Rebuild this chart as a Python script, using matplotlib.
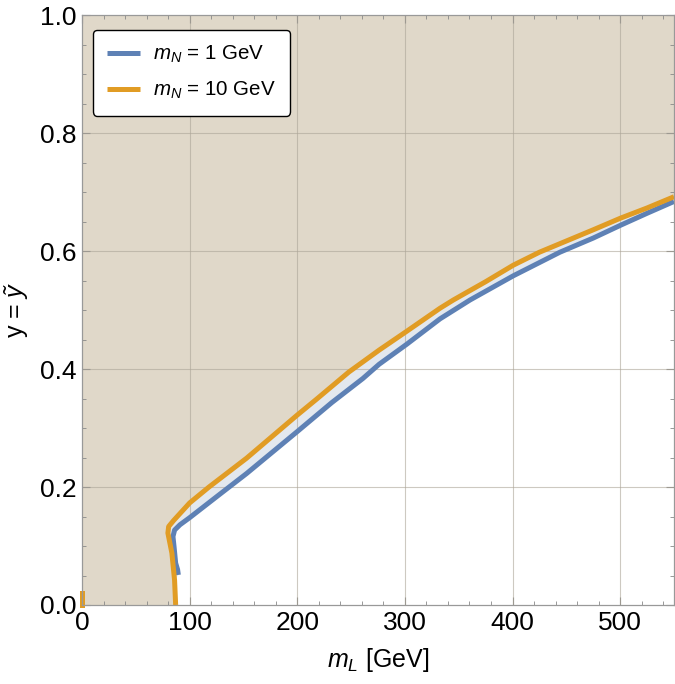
import matplotlib
matplotlib.use("Agg")
import matplotlib.pyplot as plt
from matplotlib.ticker import MultipleLocator

plt.rcParams['font.family'] = ['Liberation Sans', 'DejaVu Sans']
plt.rcParams['mathtext.fontset'] = 'custom'
plt.rcParams['mathtext.rm'] = 'Liberation Sans'
plt.rcParams['mathtext.it'] = 'Liberation Sans:italic'

# m_N = 10 GeV boundary (orange)
mL_10 = [87.0, 86.0, 83.5, 79.8, 80.5, 85.0, 100.0, 118.0, 153.0, 200.0, 218.0,
         248.0, 276.0, 301.7, 332.6, 345.0, 375.0, 400.7, 425.0, 450.0, 475.0,
         500.7, 525.0, 550.0]
y_10 = [0.0, 0.042, 0.088, 0.122, 0.133, 0.143, 0.173, 0.200, 0.249, 0.322, 0.349,
        0.395, 0.432, 0.464, 0.503, 0.517, 0.548, 0.576, 0.598, 0.617, 0.636,
        0.656, 0.673, 0.692]
# small piece at the left edge
mL_10_edge = [0.0, 0.0]
y_10_edge = [0.0, 0.02]

# m_N = 1 GeV boundary (blue)
mL_1 = [89.5, 88.8, 87.0, 85.5, 84.5, 86.0, 91.0, 100.0, 128.2, 153.0, 200.0, 232.0,
        261.0, 276.0, 301.7, 332.6, 360.5, 400.7, 444.0, 475.0, 500.7, 525.0, 550.0]
y_1 = [0.051, 0.06, 0.071, 0.099, 0.116, 0.127, 0.136, 0.148, 0.188, 0.223, 0.294, 0.343,
       0.384, 0.408, 0.442, 0.485, 0.517, 0.558, 0.598, 0.622, 0.644, 0.664, 0.684]

labels = [r'$m_N$ = 1 GeV', r'$m_N$ = 10 GeV']
c_blue = '#5e81b5'
c_orange = '#e19c24'

fig = plt.figure(figsize=(6.75, 6.84), dpi=100)
ax = fig.add_axes([0.1215, 0.1155, 0.877, 0.8625])
ax.set_xlim(0, 550)
ax.set_ylim(0, 1)

# excluded region for m_N = 10 (tan): above orange curve
px = [0.0] + mL_10 + [550.0, 0.0]
py = [0.0] + y_10 + [1.0, 1.0]
ax.fill(px, py, color='#e0d8c9', lw=0, zorder=1)
# band between orange and blue (only m_N = 1 excluded)
bx = mL_10[1:] + mL_1[::-1]
by = y_10[1:] + y_1[::-1]
ax.fill(bx, by, color='#e3e8ee', lw=0, zorder=1)

for v in [100, 200, 300, 400, 500]:
    ax.axvline(v, color='#aca598', lw=0.8, alpha=0.6, zorder=2)
for v in [0.2, 0.4, 0.6, 0.8]:
    ax.axhline(v, color='#aca598', lw=0.8, alpha=0.6, zorder=2)

ax.plot(mL_1, y_1, color=c_blue, lw=3.6, label=labels[0], zorder=4, solid_capstyle='butt')
ax.plot(mL_10, y_10, color=c_orange, lw=3.6, label=labels[1], zorder=5, solid_capstyle='butt')
ax.plot(mL_10_edge, y_10_edge, color=c_orange, lw=3.6, zorder=5, clip_on=False)

ax.xaxis.set_major_locator(MultipleLocator(100))
ax.xaxis.set_minor_locator(MultipleLocator(20))
ax.yaxis.set_minor_locator(MultipleLocator(0.05))
ax.set_yticks([0, 0.2, 0.4, 0.6, 0.8, 1.0])
ax.set_yticklabels(['0.0', '0.2', '0.4', '0.6', '0.8', '1.0'])
ax.tick_params(which='both', direction='in', top=True, right=True, color='#888888',
               labelsize=19, pad=4)
ax.tick_params(which='major', length=6)
ax.tick_params(which='minor', length=3)
for s in ax.spines.values():
    s.set_color('#999999')
    s.set_linewidth(0.9)
    s.set_zorder(6)

ax.set_xlabel(r'$m_L$ [GeV]', fontsize=18, labelpad=8)
ax.set_ylabel(r'y = $ỹ$', fontsize=18, labelpad=7)

leg = ax.legend(loc='upper left', bbox_to_anchor=(0.0186, 0.975), fontsize=14.8,
                frameon=True, fancybox=True, edgecolor='black', framealpha=1,
                borderaxespad=0.0,
                handlelength=1.6, borderpad=0.7, labelspacing=0.7, handletextpad=0.6)
leg.get_frame().set_linewidth(1.0)
leg.set_zorder(10)

fig.savefig('out.png', dpi=100)
